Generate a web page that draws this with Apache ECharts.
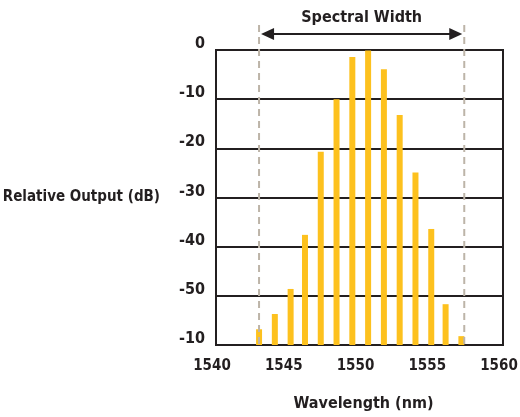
<!DOCTYPE html>
<html><head><meta charset="utf-8">
<script src="https://cdn.jsdelivr.net/npm/echarts@6/dist/echarts.min.js"></script>
<style>html,body{margin:0;padding:0;background:#fff}#c{width:520px;height:417px}</style>
</head><body><div id="c"></div>
<script>
const wavelengths = [1543.0, 1544.1, 1545.2, 1546.2, 1547.3, 1548.4, 1549.5, 1550.6, 1551.7, 1552.8, 1553.9, 1555.0, 1556.0, 1557.1];
const outputDb = [-56.8, -53.7, -48.6, -37.6, -20.7, -10.0, -1.4, -0.1, -3.9, -13.2, -24.9, -36.4, -51.7, -58.2];
const yTickValues = [-60, -50, -40, -30, -20, -10, 0];
const yTickLabels = ['-10', '-50', '-40', '-30', '-20', '-10', '0'];
const xTickValues = [1540, 1545, 1550, 1555, 1560];
const xTickLabels = ['1540', '1545', '1550', '1555', '1560'];
const spectralBounds = [1543.0, 1557.3];
const spectralLabel = 'Spectral Width';
const xTitle = 'Wavelength (nm)';
const yTitle = 'Relative Output (dB)';

const FONT = '"DejaVu Sans Condensed", "Liberation Sans Narrow", sans-serif';
const TXT = '#231f20';
const Y_MIN = -60, Y_MAX = 0;

const chart = echarts.init(document.getElementById('c'), null, {renderer: 'canvas'});
chart.setOption({
  animation: false,
  grid: {left: 216, right: 17, top: 50, bottom: 72, show: true, borderColor: TXT, borderWidth: 2,
    backgroundColor: 'transparent', containLabel: false, outerBoundsMode: 'none'},
  xAxis: {
    type: 'value', min: 1540, max: 1560, interval: 5,
    name: xTitle, nameLocation: 'middle', nameGap: 51,
    nameTextStyle: {fontFamily: FONT, fontWeight: 'bold', fontSize: 16, color: TXT, padding: [0, 0, 0, 8]},
    axisLine: {show: true, lineStyle: {color: TXT, width: 2}},
    axisTick: {show: false}, splitLine: {show: false},
    axisLabel: {margin: 14, padding: [0, 8, 0, 0], fontFamily: FONT, fontWeight: 'bold', fontSize: 15, color: TXT,
      formatter: v => xTickLabels[xTickValues.indexOf(v)] ?? ''}
  },
  yAxis: {
    type: 'value', min: Y_MIN, max: Y_MAX, interval: 10,
    name: yTitle, nameLocation: 'middle', nameRotate: 0, nameGap: 56,
    nameTextStyle: {fontFamily: FONT, fontWeight: 'bold', fontSize: 15, color: TXT, align: 'right', padding: [0, 0, 8, 0]},
    axisLine: {show: true, lineStyle: {color: TXT, width: 2}},
    axisTick: {show: false},
    splitLine: {show: true, lineStyle: {color: TXT, width: 2}},
    axisLabel: {margin: 11, verticalAlign: 'bottom', lineHeight: 12, fontFamily: FONT, fontWeight: 'bold', fontSize: 16, color: TXT,
      formatter: v => yTickLabels[yTickValues.indexOf(v)] ?? ''}
  },
  series: [
    {
      type: 'custom', z: 3,
      data: wavelengths.map((w, i) => [w, outputDb[i]]),
      renderItem: (params, api) => {
        const top = api.coord([api.value(0), api.value(1)]);
        const base = api.coord([api.value(0), Y_MIN]);
        return {type: 'rect', shape: {x: top[0] - 3, y: top[1], width: 6, height: base[1] - top[1]},
          style: {fill: '#FDC11E'}};
      }
    },
    {
      type: 'custom', z: 4, clip: false,
      data: spectralBounds.map(b => [b, Y_MAX]),
      renderItem: (params, api) => {
        const top = api.coord([api.value(0), Y_MAX]);
        const base = api.coord([api.value(0), Y_MIN]);
        return {type: 'line', shape: {x1: top[0], y1: top[1] - 25, x2: base[0], y2: base[1]},
          style: {stroke: '#BDB4A8', lineWidth: 2, lineDash: [7, 5]}};
      }
    },
    {
      type: 'custom', z: 5, clip: false,
      data: [[spectralBounds[0], spectralBounds[1]]],
      renderItem: (params, api) => {
        const a = api.coord([api.value(0), Y_MAX]);
        const b = api.coord([api.value(1), Y_MAX]);
        const y = a[1] - 16;
        const x1 = a[0] + 2, x2 = b[0] - 2;
        return {type: 'group', children: [
          {type: 'line', shape: {x1: x1 + 8, y1: y, x2: x2 - 8, y2: y}, style: {stroke: TXT, lineWidth: 2}},
          {type: 'polygon', shape: {points: [[x1, y], [x1 + 13, y - 6], [x1 + 13, y + 6]]}, style: {fill: TXT}},
          {type: 'polygon', shape: {points: [[x2, y], [x2 - 13, y - 6], [x2 - 13, y + 6]]}, style: {fill: TXT}},
          {type: 'text', x: (x1 + x2) / 2, y: y - 8, style: {text: spectralLabel, fontFamily: FONT, fontWeight: 'bold', fontSize: 16, fill: TXT, align: 'center', verticalAlign: 'bottom'}}
        ]};
      }
    }
  ]
});
</script></body></html>
